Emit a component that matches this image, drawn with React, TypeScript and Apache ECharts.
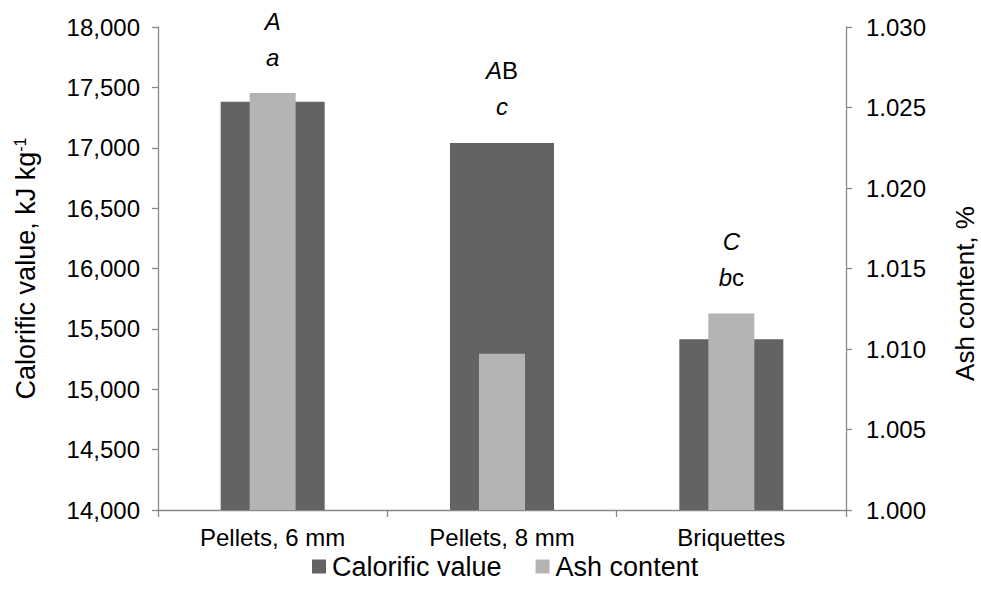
import React, { useEffect, useRef } from "react";
import * as echarts from "echarts";

const categories = ["Pellets, 6 mm", "Pellets, 8 mm", "Briquettes"];
const calorificValues = [17380, 17040, 15415];
const ashValues = [1.0259, 1.0097, 1.0122];
const calorificLetters = ["{i|A}", "{i|A}{n|B}", "{i|C}"];
const ashLetters = ["{i|a}", "{i|c}", "{i|b}{n|c}"];
const leftTicks = { min: 14000, max: 18000, interval: 500 };
const rightTicks = { min: 1.0, max: 1.03, interval: 0.005 };

const FONT = "'Liberation Sans', Arial, sans-serif";
const AXIS_COLOR = "#898989";
const DARK = "#636363";
const LIGHT = "#b4b4b4";

export default function App() {
  const ref = useRef<HTMLDivElement>(null);
  useEffect(() => {
    document.body.style.margin = "0";
    document.body.style.overflow = "hidden";
    const chart = echarts.init(ref.current!, undefined, { renderer: "svg" });
    const richLabel = {
      i: { fontStyle: "italic", fontSize: 24, fontFamily: FONT, color: "#000", lineHeight: 36 },
      n: { fontSize: 24, fontFamily: FONT, color: "#000", lineHeight: 36 },
    };
    const calFrac = calorificValues.map((v) => (v - leftTicks.min) / (leftTicks.max - leftTicks.min));
    const ashFrac = ashValues.map((v) => (v - rightTicks.min) / (rightTicks.max - rightTicks.min));
    const labelFor = (i: number) => ({
      show: true,
      position: "top",
      distance: 18,
      formatter: calorificLetters[i] + "\n" + ashLetters[i],
      rich: richLabel,
      align: "center",
    });
    const calData = calorificValues.map((v, i) =>
      calFrac[i] >= ashFrac[i] ? { value: v, label: labelFor(i) } : { value: v }
    );
    const ashData = ashValues.map((v, i) =>
      ashFrac[i] > calFrac[i] ? { value: v, label: labelFor(i) } : { value: v }
    );
    const yAxisCommon = {
      type: "value",
      splitLine: { show: false },
      axisLine: { show: true, lineStyle: { color: AXIS_COLOR, width: 1.3 } },
      axisTick: { show: true, length: 6, lineStyle: { color: AXIS_COLOR, width: 1.3 } },
      nameLocation: "middle",
    };
    chart.setOption({
      animation: false,
      textStyle: { fontFamily: FONT },
      grid: { left: 158, right: 135, top: 27, bottom: 86, outerBoundsMode: "none", containLabel: false },
      legend: {
        bottom: 11,
        left: 307,
        icon: "rect",
        itemWidth: 14,
        itemHeight: 14,
        itemGap: 34,
        textStyle: { fontSize: 27, color: "#000", fontFamily: FONT, padding: [0, 0, 0, 1] },
        data: ["Calorific value", "Ash content"],
      },
      xAxis: [
        {
          type: "category",
          data: categories,
          axisLine: { lineStyle: { color: AXIS_COLOR, width: 1.3 } },
          axisTick: { show: true, length: 7, lineStyle: { color: AXIS_COLOR, width: 1.3 } },
          axisLabel: { fontSize: 24, color: "#000", margin: 15, fontFamily: FONT },
        },
        { type: "category", data: categories, show: false },
      ],
      yAxis: [
        {
          ...yAxisCommon,
          position: "left",
          min: leftTicks.min,
          max: leftTicks.max,
          interval: leftTicks.interval,
          name: "Calorific value, kJ kg{sup|-1}",
          nameGap: 118,
          nameTextStyle: {
            fontSize: 27,
            color: "#000",
            fontFamily: FONT,
            rich: {
              sup: { fontSize: 16, verticalAlign: "top", color: "#000", fontFamily: FONT, padding: [0, 0, 12, 0] },
            },
          },
          axisLabel: {
            fontSize: 24,
            color: "#000",
            margin: 18,
            fontFamily: FONT,
            formatter: (v: number) => v.toLocaleString("en-US"),
          },
        },
        {
          ...yAxisCommon,
          position: "right",
          min: rightTicks.min,
          max: rightTicks.max,
          interval: rightTicks.interval,
          name: "Ash content, %",
          nameGap: 106,
          nameTextStyle: { fontSize: 26, color: "#000", fontFamily: FONT, padding: [0, 50, 0, 0] },
          axisLabel: {
            fontSize: 24,
            color: "#000",
            margin: 20,
            fontFamily: FONT,
            formatter: (v: number) => v.toFixed(3),
          },
        },
      ],
      series: [
        {
          name: "Calorific value",
          type: "bar",
          xAxisIndex: 0,
          yAxisIndex: 0,
          barWidth: 104,
          itemStyle: { color: DARK },
          data: calData,
        },
        {
          name: "Ash content",
          type: "bar",
          xAxisIndex: 1,
          yAxisIndex: 1,
          barWidth: 46,
          itemStyle: { color: LIGHT },
          data: ashData,
        },
      ],
    });
    return () => chart.dispose();
  }, []);
  return <div ref={ref} style={{ width: 981, height: 596 }} />;
}
